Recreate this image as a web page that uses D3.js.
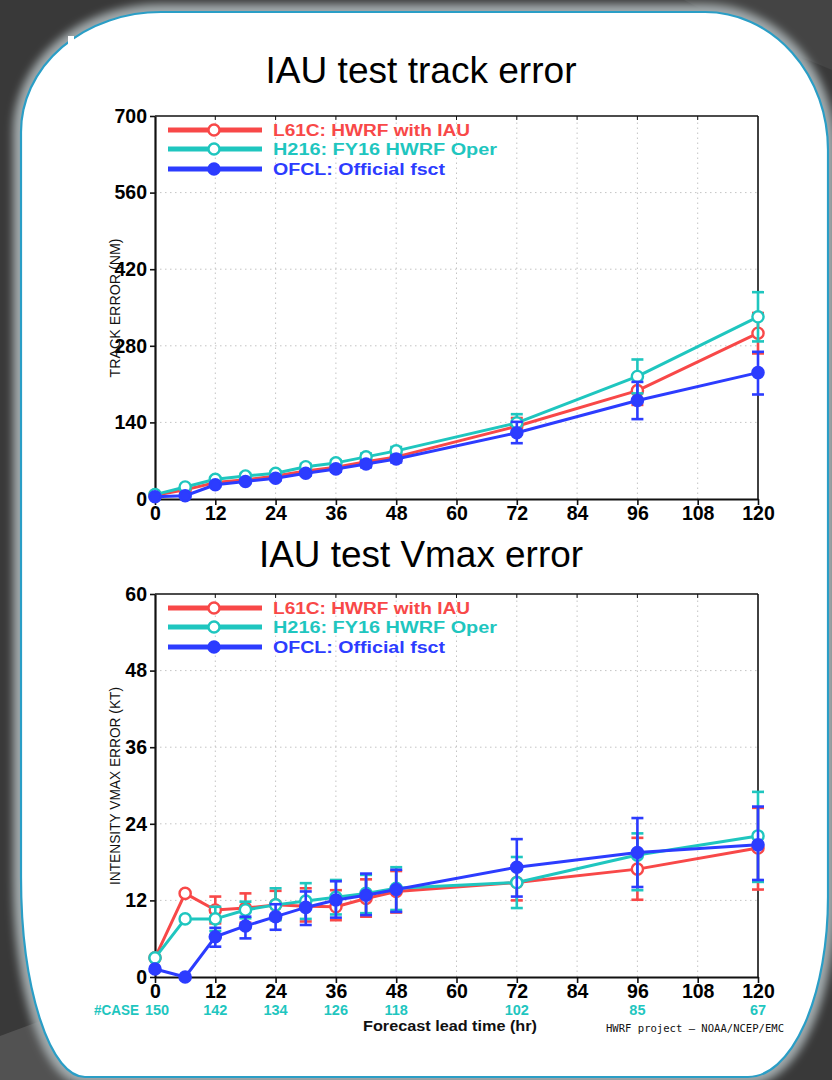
<!DOCTYPE html>
<html>
<head>
<meta charset="utf-8">
<script src="https://cdn.jsdelivr.net/npm/d3@7"></script>
<style>
  html, body { margin: 0; padding: 0; background: #383838; }
  svg { display: block; }
</style>
</head>
<body>
<svg id="chart" width="832" height="1080"></svg>
<script>
// ---- data ----
const hours = [0, 6, 12, 18, 24, 30, 36, 42, 48, 72, 96, 120];
const xTicks = [0, 12, 24, 36, 48, 60, 72, 84, 96, 108, 120];
const trackTicks = [0, 140, 280, 420, 560, 700];
const vmaxTicks = [0, 12, 24, 36, 48, 60];

const seriesNames = ["L61C: HWRF with IAU", "H216: FY16 HWRF Oper", "OFCL: Official fsct"];
const seriesColors = ["#f84848", "#1fc6bf", "#2c3cff"];

// track error (NM)
const trackL61C   = [7, 17, 30, 35, 42, 51, 58, 68, 77, 133, 198, 303];
const trackL61CLo = [5, 14, 26, 31, 38, 46, 53, 62, 70, 118, 172, 266];
const trackL61CHi = [9, 20, 34, 39, 46, 56, 63, 74, 84, 148, 224, 340];
const trackH216   = [8, 22, 36, 42, 47, 59, 66, 77, 88, 139, 224, 333];
const trackH216Lo = [6, 19, 32, 38, 43, 54, 61, 71, 81, 124, 193, 288];
const trackH216Hi = [10, 25, 40, 46, 51, 64, 71, 83, 95, 155, 255, 378];
const trackOFCL   = [4, 6, 26, 32, 38, 47, 55, 64, 73, 121, 180, 231];
const trackOFCLLo = [3, 4, 23, 29, 34, 43, 50, 58, 67, 102, 146, 191];
const trackOFCLHi = [5, 8, 29, 35, 42, 51, 60, 70, 79, 141, 214, 269];

// intensity Vmax error (KT)
const vmaxL61C   = [3.0, 13.1, 10.5, 10.8, 11.3, 11.1, 11.0, 12.3, 13.4, 14.8, 16.9, 20.2];
const vmaxL61CLo = [3.0, 13.1, 8.4, 8.5, 9.0, 8.7, 8.9, 9.45, 10.1, 12.0, 12.1, 13.7];
const vmaxL61CHi = [3.0, 13.1, 12.6, 13.1, 13.5, 13.9, 13.6, 15.3, 16.6, 17.5, 21.8, 26.5];
const vmaxH216   = [3.0, 9.1, 9.1, 10.5, 11.3, 11.9, 12.5, 13.1, 13.9, 14.8, 19.1, 22.1];
const vmaxH216Lo = [3.0, 9.1, 7.2, 9.2, 8.9, 9.1, 9.8, 10.0, 10.5, 10.8, 13.6, 14.9];
const vmaxH216Hi = [3.0, 9.1, 11.0, 11.8, 13.9, 14.7, 15.2, 16.0, 17.2, 18.8, 22.5, 29.0];
const vmaxOFCL   = [1.25, 0, 6.3, 8.0, 9.45, 10.9, 12.06, 12.8, 13.7, 17.2, 19.5, 20.7];
const vmaxOFCLLo = [1.25, 0, 4.75, 6.05, 7.4, 8.15, 9.3, 9.7, 10.2, 12.6, 14.1, 15.2];
const vmaxOFCLHi = [1.25, 0, 7.7, 9.45, 11.4, 13.4, 15.0, 16.2, 16.8, 21.6, 24.9, 26.7];

// number of verified cases per lead time
const caseHours = [0, 12, 24, 36, 48, 72, 96, 120];
const caseCounts = [150, 142, 134, 126, 118, 102, 85, 67];

// ---- drawing ----
const svg = d3.select("#chart");
const defs = svg.append("defs");
defs.append("filter").attr("id", "soft")
  .attr("x", "-10%").attr("y", "-10%").attr("width", "120%").attr("height", "120%")
  .append("feGaussianBlur").attr("stdDeviation", 4);

// slide backdrop
svg.append("rect").attr("width", 832).attr("height", 1080).attr("fill", "#393939");
svg.append("polygon").attr("points", "684,0 832,0 832,70 760,40").attr("fill", "#444444");
svg.append("polygon").attr("points", "0,1036 70,1010 70,1080 0,1080").attr("fill", "#525252");

const panelPath = "M161,12 H705 A123,138 0 0 1 828,150 V897 A80,180 0 0 1 748,1077 H85 " +
                  "A64,200 0 0 1 21,877 V132 A140,120 0 0 1 161,12 Z";
svg.append("path").attr("d", panelPath).attr("fill", "none")
  .attr("stroke", "#a3abad").attr("stroke-width", 16).attr("filter", "url(#soft)");
svg.append("path").attr("d", panelPath).attr("fill", "#ffffff")
  .attr("stroke", "#2a9ec6").attr("stroke-width", 2.2);
svg.append("rect").attr("x", 68).attr("y", 36).attr("width", 6).attr("height", 8).attr("fill", "#ffffff");

const FONT = "'Liberation Sans', Arial, sans-serif";
const x = d3.scaleLinear().domain([0, 120]).range([155, 758]);

function drawPanel(cfg) {
  const y = d3.scaleLinear().domain([0, cfg.max]).range(cfg.yRange);
  const g = svg.append("g");

  // title
  svg.append("text").attr("x", 421).attr("y", cfg.titleY)
    .attr("text-anchor", "middle").attr("font-family", FONT).attr("font-size", 37)
    .attr("fill", "#000").attr("textLength", cfg.titleLen).attr("lengthAdjust", "spacingAndGlyphs")
    .text(cfg.title);

  // dotted grid
  g.append("g").selectAll("line").data(xTicks.slice(1, -1)).join("line")
    .attr("x1", d => x(d)).attr("x2", d => x(d))
    .attr("y1", y(0)).attr("y2", y(cfg.max))
    .attr("stroke", "#c4c4c4").attr("stroke-width", 1).attr("stroke-dasharray", "1.5,3.5");
  g.append("g").selectAll("line").data(cfg.ticks.slice(1, -1)).join("line")
    .attr("x1", x(0)).attr("x2", x(120))
    .attr("y1", d => y(d)).attr("y2", d => y(d))
    .attr("stroke", "#c4c4c4").attr("stroke-width", 1).attr("stroke-dasharray", "1.5,3.5");

  // frame (top and right)
  g.append("line").attr("x1", x(0)).attr("x2", x(120)).attr("y1", y(cfg.max)).attr("y2", y(cfg.max))
    .attr("stroke", "#111").attr("stroke-width", 1.6);
  g.append("line").attr("x1", x(120)).attr("x2", x(120)).attr("y1", y(0)).attr("y2", y(cfg.max))
    .attr("stroke", "#111").attr("stroke-width", 1.6);
  g.append("g").selectAll("line").data(xTicks.slice(1, -1)).join("line")
    .attr("x1", d => x(d)).attr("x2", d => x(d))
    .attr("y1", y(cfg.max)).attr("y2", y(cfg.max) + 4)
    .attr("stroke", "#111").attr("stroke-width", 1);

  // axes
  const yAxis = g.append("g").attr("transform", `translate(${x(0)},0)`)
    .call(d3.axisLeft(y).tickValues(cfg.ticks).tickSize(5).tickSizeOuter(0).tickPadding(3));
  const xAxis = g.append("g").attr("transform", `translate(0,${y(0)})`)
    .call(d3.axisBottom(x).tickValues(xTicks).tickSize(6).tickSizeOuter(0).tickPadding(1));
  [yAxis, xAxis].forEach(a => {
    a.select(".domain").attr("stroke", "#111").attr("stroke-width", 2.2);
    a.selectAll(".tick line").attr("stroke", "#111").attr("stroke-width", 1.6);
    a.selectAll(".tick text").attr("fill", "#000").attr("font-family", FONT)
      .attr("font-size", 19.5).attr("font-weight", "bold");
  });

  // y axis title
  svg.append("text").attr("transform", `translate(120,${cfg.yLabelY}) rotate(-90)`)
    .attr("text-anchor", "middle").attr("font-family", FONT).attr("font-size", 14)
    .attr("fill", "#111").attr("textLength", cfg.yLabelLen).attr("lengthAdjust", "spacingAndGlyphs")
    .text(cfg.yLabel);

  // series: error bars, lines, markers
  cfg.series.forEach((s, i) => {
    const col = seriesColors[i];
    const sg = g.append("g");
    const bars = hours.map((h, k) => ({ h, lo: s.lo[k], hi: s.hi[k] })).filter(d => d.hi > d.lo);
    sg.selectAll("line.bar").data(bars).join("line").attr("class", "bar")
      .attr("x1", d => x(d.h)).attr("x2", d => x(d.h))
      .attr("y1", d => y(d.lo)).attr("y2", d => y(d.hi))
      .attr("stroke", col).attr("stroke-width", 2.6);
    ["lo", "hi"].forEach(key => {
      sg.selectAll("line.cap-" + key).data(bars).join("line").attr("class", "cap-" + key)
        .attr("x1", d => x(d.h) - 6).attr("x2", d => x(d.h) + 6)
        .attr("y1", d => y(d[key])).attr("y2", d => y(d[key]))
        .attr("stroke", col).attr("stroke-width", 2.6);
    });
    const line = d3.line().x((d, k) => x(hours[k])).y(d => y(d));
    sg.append("path").datum(s.v).attr("d", line)
      .attr("fill", "none").attr("stroke", col).attr("stroke-width", 3).attr("stroke-linejoin", "round");
    sg.selectAll("circle").data(s.v).join("circle")
      .attr("cx", (d, k) => x(hours[k])).attr("cy", d => y(d)).attr("r", 5.6)
      .attr("fill", i === 2 ? col : "#fff").attr("stroke", col).attr("stroke-width", 2.4);
  });

  // legend
  cfg.legendY.forEach((ly, i) => {
    const col = seriesColors[i];
    svg.append("line").attr("x1", 168).attr("x2", 262).attr("y1", ly).attr("y2", ly)
      .attr("stroke", col).attr("stroke-width", 5);
    svg.append("circle").attr("cx", 214).attr("cy", ly).attr("r", 5.5)
      .attr("fill", i === 2 ? col : "#fff").attr("stroke", col).attr("stroke-width", 2.4);
    svg.append("text").attr("x", 273).attr("y", ly + 6)
      .attr("font-family", FONT).attr("font-size", 16).attr("font-weight", "bold")
      .attr("fill", col).attr("textLength", [197, 224, 172][i]).attr("lengthAdjust", "spacingAndGlyphs")
      .text(seriesNames[i]);
  });
  return y;
}

drawPanel({
  max: 700, ticks: trackTicks, yRange: [499, 116],
  title: "IAU test track error", titleY: 83, titleLen: 311,
  yLabel: "TRACK ERROR (NM)", yLabelY: 308, yLabelLen: 139,
  legendY: [130, 149, 169],
  series: [
    { v: trackL61C, lo: trackL61CLo, hi: trackL61CHi },
    { v: trackH216, lo: trackH216Lo, hi: trackH216Hi },
    { v: trackOFCL, lo: trackOFCLLo, hi: trackOFCLHi }
  ]
});

drawPanel({
  max: 60, ticks: vmaxTicks, yRange: [977, 594],
  title: "IAU test Vmax error", titleY: 567, titleLen: 324,
  yLabel: "INTENSITY VMAX ERROR (KT)", yLabelY: 786, yLabelLen: 198,
  legendY: [608, 627, 647],
  series: [
    { v: vmaxL61C, lo: vmaxL61CLo, hi: vmaxL61CHi },
    { v: vmaxH216, lo: vmaxH216Lo, hi: vmaxH216Hi },
    { v: vmaxOFCL, lo: vmaxOFCLLo, hi: vmaxOFCLHi }
  ]
});

// case counts row
svg.append("text").attr("x", 94).attr("y", 1015)
  .attr("font-family", FONT).attr("font-size", 14.5).attr("font-weight", "bold")
  .attr("fill", "#1fc6bf").attr("textLength", 45).attr("lengthAdjust", "spacingAndGlyphs")
  .text("#CASE");
svg.append("g").selectAll("text").data(caseCounts).join("text")
  .attr("x", (d, k) => x(caseHours[k]) + (k === 0 ? 2 : 0)).attr("y", 1015)
  .attr("text-anchor", "middle").attr("font-family", FONT).attr("font-size", 14.5)
  .attr("font-weight", "bold").attr("fill", "#1fc6bf")
  .text(d => d);

// x axis title and credit
svg.append("text").attr("x", 363).attr("y", 1031)
  .attr("font-family", FONT).attr("font-size", 14.5).attr("font-weight", "bold").attr("fill", "#111")
  .attr("textLength", 174).attr("lengthAdjust", "spacingAndGlyphs")
  .text("Forecast lead time (hr)");
svg.append("text").attr("x", 606).attr("y", 1032)
  .attr("font-family", "'DejaVu Sans Mono', monospace").attr("font-size", 10).attr("fill", "#111")
  .attr("textLength", 178).attr("lengthAdjust", "spacingAndGlyphs")
  .text("HWRF project \u2013 NOAA/NCEP/EMC");
</script>
</body>
</html>
